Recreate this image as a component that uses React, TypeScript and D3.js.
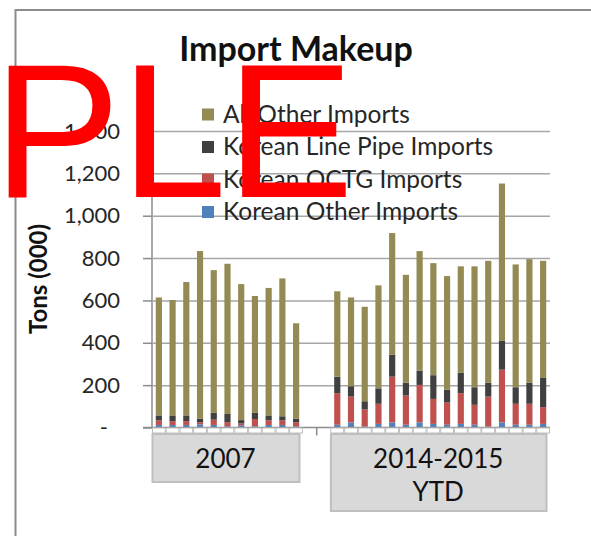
import React, { useEffect, useRef } from "react";
import * as d3 from "d3";

// monthly categories (labels are hidden in the source chart, only the boxes show)
const months2007 = ["Jan-07", "Feb-07", "Mar-07", "Apr-07", "May-07", "Jun-07", "Jul-07", "Aug-07", "Sep-07", "Oct-07", "Nov-07"];
const months1415 = ["Jan-14", "Feb-14", "Mar-14", "Apr-14", "May-14", "Jun-14", "Jul-14", "Aug-14", "Sep-14", "Oct-14", "Nov-14", "Dec-14", "Jan-15", "Feb-15", "Mar-15", "Apr-15"];

// tons (000)
const koreanOther2007 = [12, 12, 12, 15, 12, 6, 11, 6, 12, 12, 6];
const koreanOctg2007 = [22, 18, 18, 10, 25, 19, 8, 34, 22, 22, 19];
const koreanLinePipe2007 = [23, 27, 27, 16, 32, 39, 16, 29, 23, 19, 16];
const allOther2007 = [557, 545, 630, 792, 674, 709, 642, 552, 602, 651, 451];

const koreanOther1415 = [13, 24, 5, 17, 24, 13, 24, 17, 13, 17, 13, 5, 24, 13, 13, 17];
const koreanOctg1415 = [149, 122, 80, 95, 216, 138, 177, 118, 105, 145, 94, 141, 249, 99, 99, 79];
const koreanLinePipe1415 = [78, 49, 39, 73, 103, 61, 68, 112, 61, 96, 83, 66, 136, 78, 100, 138];
const allOther1415 = [403, 419, 446, 486, 575, 509, 564, 529, 536, 503, 571, 575, 743, 580, 583, 553];

const yTicks = [0, 200, 400, 600, 800, 1000, 1200, 1400];
const groupLabels = [["2007"], ["2014-2015", "YTD"]];
const seriesKeys = ["other", "octg", "linePipe", "allOther"];
const seriesNames = ["All Other Imports", "Korean Line Pipe Imports", "Korean OCTG Imports", "Korean Other Imports"];
const seriesColors = ["#948a54", "#404040", "#c0504d", "#4f81bd"];

const FONT = "Lato, 'Open Sans', sans-serif";

const App = () => {
  const svgRef = useRef<SVGSVGElement>(null);

  useEffect(() => {
    const width = 591;
    const height = 536;
    const plotLeft = 152;
    const plotRight = 550;

    const rows = [
      ...months2007.map((m, i) => ({ key: m, other: koreanOther2007[i], octg: koreanOctg2007[i], linePipe: koreanLinePipe2007[i], allOther: allOther2007[i] })),
      ...months1415.map((m, i) => ({ key: m, other: koreanOther1415[i], octg: koreanOctg1415[i], linePipe: koreanLinePipe1415[i], allOther: allOther1415[i] })),
    ];
    // two blank slots between the groups
    const slots = [...months2007, "blank1", "blank2", ...months1415];

    const x = d3.scaleBand().domain(slots).range([plotLeft, plotRight]).paddingInner(0.55).paddingOuter(0.275);
    const y = d3.scaleLinear().domain([0, 1400]).range([427.5, 131]);
    const step = x.step();
    const slotStart = (k: string) => (x(k) as number) - (step - x.bandwidth()) / 2;

    const color = d3.scaleOrdinal<string>().domain(["allOther", "linePipe", "octg", "other"]).range(seriesColors);
    const stacked = d3.stack<any>().keys(seriesKeys)(rows);

    const svg = d3.select(svgRef.current)
      .attr("width", width)
      .attr("height", height)
      .attr("viewBox", [0, 0, width, height].join(" "));
    svg.selectAll("*").remove();

    // frame
    svg.append("path")
      .attr("d", `M15.5,${height} V10 H${width}`)
      .attr("fill", "none")
      .attr("stroke", "#8c8c8c")
      .attr("stroke-width", 2);

    // title
    svg.append("text")
      .attr("x", 296)
      .attr("y", 61)
      .attr("text-anchor", "middle")
      .attr("font-family", FONT)
      .attr("font-weight", "bold")
      .attr("font-size", 34)
      .attr("fill", "#111")
      .text("Import Makeup");

    // y axis + grid
    svg.append("g")
      .attr("transform", `translate(${plotLeft},0)`)
      .call(d3.axisLeft(y).tickValues(yTicks).tickSize(9).tickPadding(23)
        .tickFormat((d: any) => (d === 0 ? "-" : d3.format(",")(d))))
      .call(g => g.select(".domain").attr("stroke", "#8c8c8c").attr("stroke-width", 1.5).attr("d", `M0,${y(1400)}V${y(0)}`))
      .call(g => g.selectAll(".tick line").attr("stroke", "#8c8c8c").attr("stroke-width", 1.5))
      .call(g => g.selectAll(".tick").filter((d: any) => d !== 0).append("line")
        .attr("x2", plotRight - plotLeft)
        .attr("stroke", "#a6a6a6")
        .attr("stroke-width", 1.5))
      .call(g => g.selectAll(".tick text")
        .attr("font-family", FONT)
        .attr("font-size", 22)
        .attr("fill", "#262626")
        .attr("dx", (d: any) => (d === 0 ? -12 : 0)));

    // y title
    svg.append("text")
      .attr("transform", `translate(47,279) rotate(-90)`)
      .attr("text-anchor", "middle")
      .attr("font-family", FONT)
      .attr("font-weight", "bold")
      .attr("font-size", 24)
      .attr("fill", "#111")
      .text("Tons (000)");

    // bars
    svg.append("g")
      .selectAll("g")
      .data(stacked)
      .join("g")
      .attr("fill", d => color(d.key))
      .selectAll("rect")
      .data(d => d)
      .join("rect")
      .attr("x", d => x(d.data.key) as number)
      .attr("y", d => y(d[1]))
      .attr("height", d => y(d[0]) - y(d[1]))
      .attr("width", x.bandwidth());

    // x axis line
    svg.append("line")
      .attr("x1", 143)
      .attr("x2", plotRight)
      .attr("y1", y(0))
      .attr("y2", y(0))
      .attr("stroke", "#8c8c8c")
      .attr("stroke-width", 1.5);

    // category cells and group boxes
    const groups = [months2007, months1415];
    groups.forEach((g, gi) => {
      svg.append("g")
        .selectAll("rect")
        .data(g)
        .join("rect")
        .attr("x", d => slotStart(d) + 0.5)
        .attr("y", y(0) + 0.5)
        .attr("width", step - 1)
        .attr("height", 5)
        .attr("fill", "#fff")
        .attr("stroke", "#bfbfbf")
        .attr("stroke-width", 1);

      const x0 = slotStart(g[0]);
      const x1 = slotStart(g[g.length - 1]) + step;
      const lines = groupLabels[gi];
      const boxBottom = lines.length > 1 ? 511 : 482;
      svg.append("rect")
        .attr("x", x0 + 0.5)
        .attr("y", 434)
        .attr("width", x1 - x0 - 4)
        .attr("height", boxBottom - 434)
        .attr("fill", "#d9d9d9")
        .attr("stroke", "#bfbfbf")
        .attr("stroke-width", 2);

      svg.append("text")
        .attr("text-anchor", "middle")
        .attr("font-family", FONT)
        .attr("font-size", 26)
        .attr("fill", "#111")
        .selectAll("tspan")
        .data(lines)
        .join("tspan")
        .attr("x", (x0 + x1 - 4) / 2)
        .attr("y", (d, i) => 468 + i * 33)
        .text(d => d);
    });

    // group separator tick
    svg.append("line")
      .attr("x1", slotStart("blank2"))
      .attr("x2", slotStart("blank2"))
      .attr("y1", y(0))
      .attr("y2", y(0) + 8)
      .attr("stroke", "#8c8c8c")
      .attr("stroke-width", 1.5);

    // legend
    const legend = svg.append("g")
      .selectAll("g")
      .data(seriesNames)
      .join("g")
      .attr("transform", (d, i) => `translate(202,${114.5 + i * 32.5})`);
    legend.append("rect")
      .attr("y", -6)
      .attr("width", 12)
      .attr("height", 12)
      .attr("fill", (d, i) => seriesColors[i]);
    legend.append("text")
      .attr("x", 21)
      .attr("y", 8)
      .attr("font-family", FONT)
      .attr("font-size", 24.5)
      .attr("fill", "#262626")
      .text(d => d);

    // watermark overlay
    svg.append("text")
      .attr("x", -7)
      .attr("y", 197)
      .attr("font-family", "'Liberation Sans', Arial, sans-serif")
      .attr("font-size", 191)
      .attr("fill", "#ff0000")
      .text("PLE");
  }, []);

  return (
    <div style={{ position: "absolute", left: 0, top: 0 }}>
      <svg ref={svgRef} style={{ display: "block" }} />
    </div>
  );
};

export default App;
